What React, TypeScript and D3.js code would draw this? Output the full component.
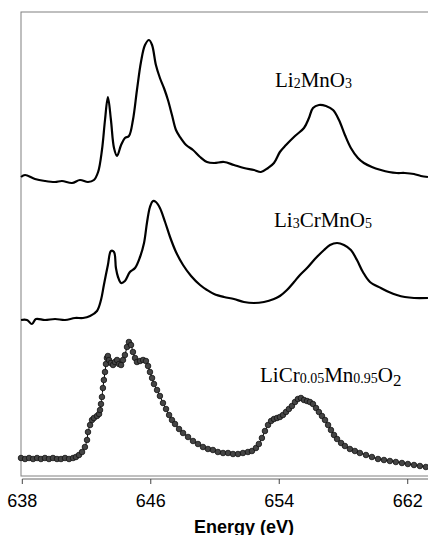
import * as d3 from "d3"

// Energy (eV) / intensity (a.u., stacked)
const li2mno3: [number, number][] = [
  [637.92, 299], [638.17, 301], [638.79, 297], [639.41, 295], [640.04, 294], [640.47, 295],
  [641.1, 293], [641.59, 296], [642.09, 294], [642.46, 296], [642.72, 304], [642.96, 326],
  [643.15, 356], [643.33, 379], [643.52, 356], [643.71, 328], [643.9, 320], [644.15, 331],
  [644.39, 338], [644.64, 340], [644.89, 356], [645.14, 386], [645.39, 414], [645.64, 431],
  [645.89, 436], [646.08, 431], [646.32, 411], [646.57, 398], [646.82, 388], [647.07, 376],
  [647.32, 361], [647.57, 346], [647.82, 339], [648.2, 331], [648.63, 326], [649.07, 319],
  [649.5, 314], [649.94, 313], [650.56, 314], [651.18, 311], [651.8, 308], [652.43, 306],
  [652.86, 304], [653.3, 308], [653.67, 313], [654.04, 324], [654.42, 331], [654.98, 340],
  [655.54, 348], [655.85, 358], [656.1, 368], [656.47, 371], [656.91, 370], [657.35, 366],
  [657.72, 356], [658.09, 341], [658.46, 328], [658.9, 318], [659.27, 313], [659.77, 309],
  [660.33, 306], [660.83, 304], [661.32, 303], [661.82, 303], [662.39, 302], [662.82, 300],
  [663.26, 299],
]

const li3crmno5: [number, number][] = [
  [637.92, 156], [638.29, 156], [638.6, 152], [638.85, 157], [639.41, 156], [640.04, 157],
  [640.66, 156], [641.28, 158], [641.78, 158], [642.22, 160], [642.65, 165], [642.9, 176],
  [643.08, 191], [643.33, 211], [643.52, 225], [643.71, 224], [643.83, 208], [643.96, 199],
  [644.15, 193], [644.39, 195], [644.7, 204], [645.02, 208], [645.33, 219], [645.58, 233],
  [645.77, 254], [645.95, 269], [646.14, 275], [646.32, 274], [646.57, 268], [646.89, 254],
  [647.2, 239], [647.57, 224], [648.01, 211], [648.51, 200], [649.07, 191], [649.5, 186],
  [649.94, 182], [650.56, 179], [651.18, 177], [651.8, 174], [652.43, 173], [653.05, 174],
  [653.67, 177], [654.04, 180], [654.48, 186], [654.92, 194], [655.29, 201], [655.73, 208],
  [656.22, 217], [656.79, 226], [657.16, 231], [657.6, 233], [658.03, 231], [658.46, 226],
  [658.84, 216], [659.21, 204], [659.65, 194], [660.33, 188], [660.83, 184], [661.32, 181],
  [661.82, 179], [662.39, 178], [663.26, 178],
]

const licrmno2: [number, number][] = [
  [637.92, 18], [638.17, 17], [638.42, 18], [638.67, 17], [638.92, 18], [639.16, 17],
  [639.41, 18], [639.66, 17], [639.91, 18], [640.16, 17], [640.41, 17], [640.66, 18],
  [640.91, 17], [641.16, 18], [641.34, 19], [641.53, 21], [641.72, 24], [641.9, 29],
  [642.03, 36], [642.09, 44], [642.22, 51], [642.34, 56], [642.46, 58], [642.65, 60],
  [642.78, 62], [642.84, 66], [642.9, 72], [642.96, 79], [643.02, 88], [643.08, 96],
  [643.15, 104], [643.21, 112], [643.27, 118], [643.33, 120], [643.4, 116], [643.52, 113],
  [643.65, 111], [643.77, 114], [643.9, 116], [644.02, 112], [644.15, 111], [644.27, 116],
  [644.39, 121], [644.52, 129], [644.64, 134], [644.77, 131], [644.89, 124], [645.02, 118],
  [645.14, 114], [645.33, 115], [645.52, 116], [645.7, 115], [645.83, 110], [645.95, 104],
  [646.08, 98], [646.2, 92], [646.39, 86], [646.57, 80], [646.76, 73], [646.95, 67],
  [647.14, 61], [647.32, 56], [647.51, 52], [647.76, 47], [648.01, 43], [648.32, 39],
  [648.63, 35], [648.94, 32], [649.25, 29], [649.56, 27], [649.87, 26], [650.18, 24],
  [650.5, 23], [650.81, 23], [651.12, 22], [651.43, 22], [651.74, 23], [652.05, 24],
  [652.3, 25], [652.55, 28], [652.73, 32], [652.92, 38], [653.11, 45], [653.3, 51],
  [653.49, 55], [653.67, 57], [653.86, 58], [654.04, 59], [654.23, 61], [654.42, 64],
  [654.6, 67], [654.79, 70], [654.98, 74], [655.16, 77], [655.35, 78], [655.54, 76],
  [655.73, 75], [655.91, 74], [656.1, 72], [656.29, 68], [656.47, 64], [656.66, 60],
  [656.85, 56], [657.04, 51], [657.22, 46], [657.41, 41], [657.6, 37], [657.85, 33],
  [658.09, 30], [658.4, 27], [658.71, 25], [659.02, 23], [659.4, 21], [659.77, 19],
  [660.15, 17], [660.52, 16], [660.89, 15], [661.26, 14], [661.64, 13], [662.01, 12],
  [662.39, 11], [662.76, 10], [663.13, 9],
]

const xTicks = [638, 646, 654, 662]

export default function App() {
  const W = 428
  const H = 535
  const left = 21
  const top = 12
  const bottom = 476

  const x = d3.scaleLinear().domain([638, 663.3]).range([22.3, 428.6])
  const y = d3.scaleLinear().domain([0, 464]).range([bottom, top])

  // smooth through the read points
  const line = d3.line<[number, number]>()
    .x(d => x(d[0]))
    .y(d => y(d[1]))
    .curve(d3.curveCatmullRom.alpha(0.5))

  const axisY = 479
  const serif = "'Liberation Serif', 'Times New Roman', serif"
  const sans = "'Liberation Sans', Arial, sans-serif"

  return (
    <svg width={W} height={H} style={{ position: "absolute", left: 0, top: 0 }}>
      <rect x={0} y={0} width={W} height={H} fill="#fff" />
      {/* plot box */}
      <rect x={left} y={top} width={W + 20} height={bottom - top} fill="none" stroke="#808080" strokeWidth={1} />

      <path d={line(li2mno3) ?? ""} fill="none" stroke="#000" strokeWidth={2.2} strokeLinejoin="round" />
      <path d={line(li3crmno5) ?? ""} fill="none" stroke="#000" strokeWidth={2.2} strokeLinejoin="round" />
      <path d={line(licrmno2) ?? ""} fill="none" stroke="#000" strokeWidth={1} />
      {licrmno2.map((d, i) => (
        <circle key={i} cx={x(d[0])} cy={y(d[1])} r={2.8} fill="#444" stroke="#111" strokeWidth={0.8} />
      ))}

      {/* x axis */}
      <line x1={x(638)} x2={W} y1={axisY} y2={axisY} stroke="#666" strokeWidth={1} />
      {xTicks.map(t => (
        <g key={t} transform={`translate(${x(t)},0)`}>
          <line y1={axisY} y2={axisY + 5} stroke="#444" strokeWidth={1} />
          <text y={506.5} textAnchor="middle" fontFamily={sans} fontSize={18} fill="#000">{t}</text>
        </g>
      ))}
      <text x={244} y={532.5} textAnchor="middle" fontFamily={sans} fontSize={18} fontWeight="bold" fill="#000">
        Energy (eV)
      </text>

      {/* series labels */}
      <text x={275} y={87} fontFamily={serif} fontSize={21} fill="#000">
        Li<tspan fontSize={14} dy={1}>2</tspan><tspan dy={-1}>MnO</tspan><tspan fontSize={14} dy={1}>3</tspan>
      </text>
      <text x={274} y={227} fontFamily={serif} fontSize={21} fill="#000">
        Li<tspan fontSize={14} dy={1}>3</tspan><tspan dy={-1}>CrMnO</tspan><tspan fontSize={14} dy={1}>5</tspan>
      </text>
      <text x={260} y={382} fontFamily={serif} fontSize={21} fill="#000">
        LiCr<tspan fontSize={14} dy={1}>0.05</tspan><tspan dy={-1}>Mn</tspan><tspan fontSize={14} dy={1}>0.95</tspan><tspan dy={-1}>O</tspan><tspan fontSize={17} dy={4}>2</tspan>
      </text>
    </svg>
  )
}
